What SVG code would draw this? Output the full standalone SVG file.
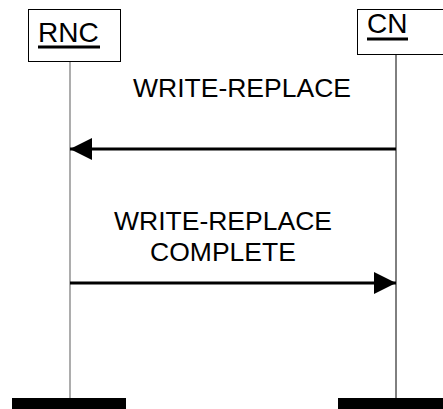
<svg xmlns="http://www.w3.org/2000/svg" width="443" height="409" viewBox="0 0 443 409">
<defs>
<style>
.box{fill:#fff;stroke:#000;stroke-width:1}
.t{font-family:"Liberation Sans",Arial,sans-serif;font-size:26.5px;fill:#000}
.n{font-family:"Liberation Sans",Arial,sans-serif;font-size:28px;fill:#000}
.msg{stroke:#000;stroke-width:3;fill:none}
.bar{fill:#000}
</style>
<marker id="ah" viewBox="0 0 22 22" refX="22" refY="11" markerWidth="22" markerHeight="22" markerUnits="userSpaceOnUse" orient="auto">
<path d="M0,0 L22,11 L0,22 Z" fill="#000"/>
</marker>
</defs>
<rect width="443" height="409" fill="#fff"/>
<g id="lifelines">
<line x1="70" y1="62" x2="70" y2="400" stroke="#808080" stroke-width="1.3"/>
<line x1="396" y1="55" x2="396" y2="400" stroke="#000" stroke-width="1"/>
</g>
<g id="RNC">
<rect class="box" x="28.5" y="9.5" width="92" height="52"/>
<text class="n" x="38" y="42">RNC</text>
<rect x="38" y="45.5" width="62" height="3" fill="#000"/>
<rect class="bar" x="12" y="398" width="114" height="11"/>
</g>
<g id="CN">
<rect class="box" x="357.5" y="9.5" width="90" height="45"/>
<text class="n" x="367" y="33">CN</text>
<rect x="367" y="37.5" width="41" height="3" fill="#000"/>
<rect class="bar" x="338" y="398" width="105" height="11"/>
</g>
<g id="connectors">
<line class="msg" x1="396" y1="149" x2="70" y2="149" marker-end="url(#ah)"/>
<line class="msg" x1="70" y1="283" x2="396" y2="283" marker-end="url(#ah)"/>
</g>
<g id="labels">
<text class="t" x="242" y="97" text-anchor="middle">WRITE-REPLACE</text>
<text class="t" x="223" y="230" text-anchor="middle">WRITE-REPLACE</text>
<text class="t" x="223" y="261" text-anchor="middle">COMPLETE</text>
</g>
</svg>
